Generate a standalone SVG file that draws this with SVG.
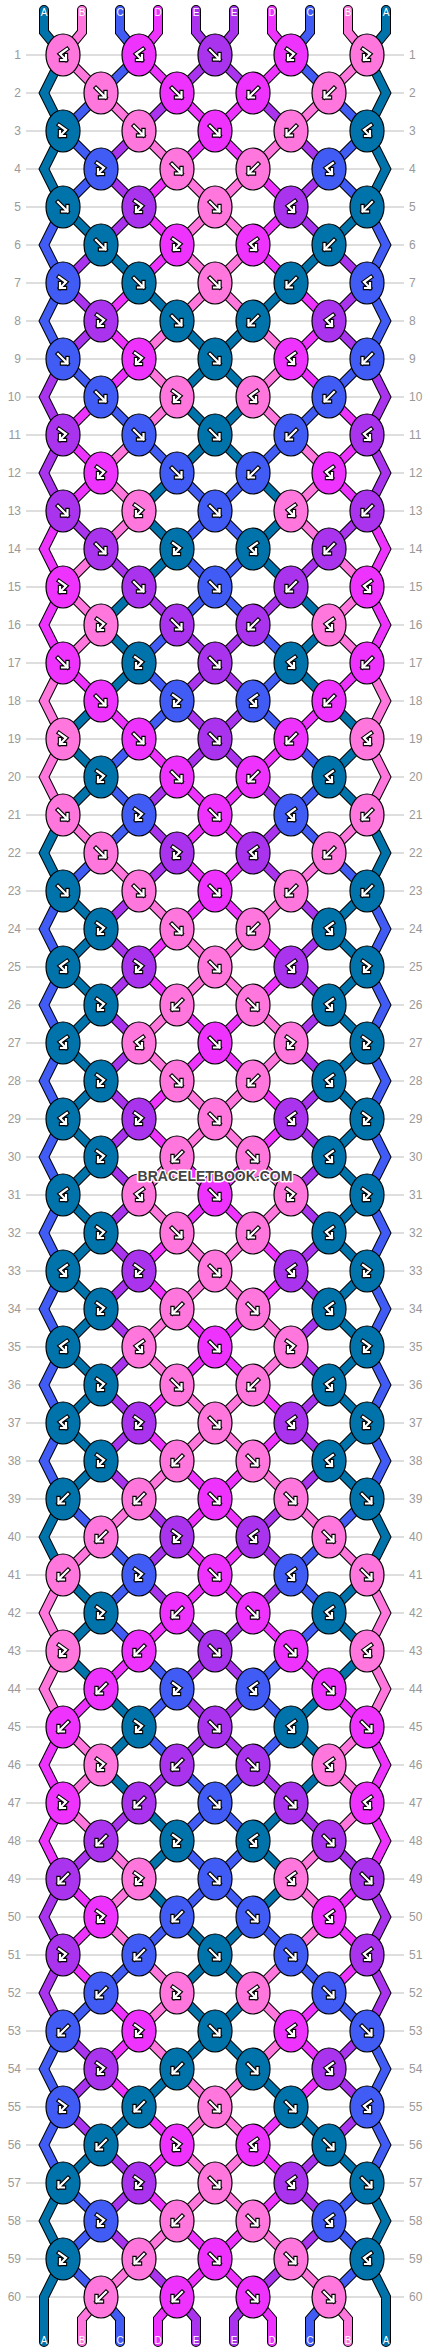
<svg xmlns="http://www.w3.org/2000/svg" width="430" height="2352" viewBox="0 0 430 2352">
<style>
.o{fill:none;stroke:#000;stroke-width:10;stroke-linecap:round;stroke-linejoin:miter;stroke-miterlimit:4}
.s{fill:none;stroke-width:8;stroke-linecap:round;stroke-linejoin:miter;stroke-miterlimit:4}
.sT{stroke:#0073aa}.sP{stroke:#ff77dd}.sU{stroke:#405cf5}.sM{stroke:#ee33ff}.sV{stroke:#aa33ee}
.T{fill:#0073aa}.P{fill:#ff77dd}.U{fill:#405cf5}.M{fill:#ee33ff}.V{fill:#aa33ee}
.ga{fill:none;stroke:#000;stroke-width:4.4;stroke-linecap:square;stroke-linejoin:miter}
.gw{fill:none;stroke:#fff;stroke-width:2.2;stroke-linecap:square;stroke-linejoin:miter}
.ln{fill:none;stroke:#bdbdbd;stroke-width:1}
.nl{font-family:"Liberation Sans",Arial,sans-serif;font-size:12px;fill:#999;text-anchor:end}
.nr{font-family:"Liberation Sans",Arial,sans-serif;font-size:12px;fill:#999;text-anchor:start}
.lab{font-family:"Liberation Sans",Arial,sans-serif;font-size:10px;fill:#fff;text-anchor:middle}
.wm{font-family:"Liberation Sans",Arial,sans-serif;font-size:14px;font-weight:bold;fill:#444;stroke:#fff;stroke-width:3;paint-order:stroke;stroke-linejoin:round;text-anchor:middle}
</style>
<defs>
<ellipse id="k" rx="17" ry="21" stroke="#000" stroke-width="1.2"/>
<path id="pf" d="M-5-5L4.5 4.5M4.5-1V4.5H-1"/>
<path id="pfb" d="M-4-6L3-1L-3 5M-3 0V5H2"/>
<g id="gf"><use href="#pf" class="ga"/><use href="#pf" class="gw"/></g>
<g id="gfb"><use href="#pfb" class="ga"/><use href="#pfb" class="gw"/></g>
<g id="Kf"><use href="#k"/><use href="#gf"/></g>
<g id="Kb"><use href="#k"/><use href="#gf" transform="scale(-1,1)"/></g>
<g id="Kfb"><use href="#k"/><use href="#gfb"/></g>
<g id="Kbf"><use href="#k"/><use href="#gfb" transform="scale(-1,1)"/></g>
<polyline id="sT" points="44,10 44,32 63,55 44,93 63,131 44,169 63,207 101,245 139,283 177,321 215,359 177,397 215,435 177,473 139,511 177,549 139,587 101,625 139,663 101,701 63,739 101,777 63,815 44,853 63,891 101,929 63,967 101,1005 63,1043 101,1081 63,1119 101,1157 63,1195 101,1233 63,1271 101,1309 63,1347 101,1385 63,1423 101,1461 63,1499 44,1537 63,1575 101,1613 63,1651 101,1689 139,1727 101,1765 139,1803 177,1841 139,1879 177,1917 215,1955 177,1993 215,2031 177,2069 139,2107 101,2145 63,2183 44,2221 63,2259 44,2297 44,2342"/>
<polyline id="sP" points="82,10 82,32 63,55 101,93 139,131 177,169 215,207 177,245 215,283 177,321 139,359 177,397 139,435 101,473 139,511 101,549 63,587 101,625 63,663 44,701 63,739 44,777 63,815 101,853 139,891 177,929 215,967 177,1005 139,1043 177,1081 215,1119 177,1157 139,1195 177,1233 215,1271 177,1309 139,1347 177,1385 215,1423 177,1461 139,1499 101,1537 63,1575 44,1613 63,1651 44,1689 63,1727 101,1765 63,1803 101,1841 139,1879 101,1917 139,1955 177,1993 139,2031 177,2069 215,2107 177,2145 215,2183 177,2221 139,2259 101,2297 82,2319 82,2342"/>
<polyline id="sU" points="120,10 120,32 139,55 101,93 63,131 101,169 63,207 44,245 63,283 44,321 63,359 101,397 139,435 177,473 215,511 177,549 215,587 177,625 139,663 177,701 139,739 101,777 139,815 101,853 63,891 44,929 63,967 44,1005 63,1043 44,1081 63,1119 44,1157 63,1195 44,1233 63,1271 44,1309 63,1347 44,1385 63,1423 44,1461 63,1499 101,1537 139,1575 101,1613 139,1651 177,1689 139,1727 177,1765 215,1803 177,1841 215,1879 177,1917 139,1955 101,1993 63,2031 44,2069 63,2107 44,2145 63,2183 101,2221 63,2259 101,2297 120,2319 120,2342"/>
<polyline id="sM" points="158,10 158,32 139,55 177,93 215,131 177,169 139,207 177,245 139,283 101,321 139,359 101,397 63,435 101,473 63,511 44,549 63,587 44,625 63,663 101,701 139,739 177,777 215,815 177,853 215,891 177,929 139,967 177,1005 215,1043 177,1081 139,1119 177,1157 215,1195 177,1233 139,1271 177,1309 215,1347 177,1385 139,1423 177,1461 215,1499 177,1537 215,1575 177,1613 139,1651 101,1689 63,1727 44,1765 63,1803 44,1841 63,1879 101,1917 63,1955 101,1993 139,2031 101,2069 139,2107 177,2145 139,2183 177,2221 215,2259 177,2297 158,2319 158,2342"/>
<polyline id="sV" points="196,10 196,32 215,55 177,93 139,131 101,169 139,207 101,245 63,283 101,321 63,359 44,397 63,435 44,473 63,511 101,549 139,587 177,625 215,663 177,701 215,739 177,777 139,815 177,853 139,891 101,929 139,967 101,1005 139,1043 101,1081 139,1119 101,1157 139,1195 101,1233 139,1271 101,1309 139,1347 101,1385 139,1423 101,1461 139,1499 177,1537 139,1575 177,1613 215,1651 177,1689 215,1727 177,1765 139,1803 101,1841 63,1879 44,1917 63,1955 44,1993 63,2031 101,2069 63,2107 101,2145 139,2183 101,2221 139,2259 177,2297 196,2319 196,2342"/>
<g id="half">
<use href="#sT" class="o"/><use href="#sT" class="s sT"/>
<use href="#sP" class="o"/><use href="#sP" class="s sP"/>
<use href="#sU" class="o"/><use href="#sU" class="s sU"/>
<use href="#sM" class="o"/><use href="#sM" class="s sM"/>
<use href="#sV" class="o"/><use href="#sV" class="s sV"/>
</g>
</defs>
<rect width="430" height="2352" fill="#fff"/>
<path class="ln" d="M26 55H404M26 93H404M26 131H404M26 169H404M26 207H404M26 245H404M26 283H404M26 321H404M26 359H404M26 397H404M26 435H404M26 473H404M26 511H404M26 549H404M26 587H404M26 625H404M26 663H404M26 701H404M26 739H404M26 777H404M26 815H404M26 853H404M26 891H404M26 929H404M26 967H404M26 1005H404M26 1043H404M26 1081H404M26 1119H404M26 1157H404M26 1195H404M26 1233H404M26 1271H404M26 1309H404M26 1347H404M26 1385H404M26 1423H404M26 1461H404M26 1499H404M26 1537H404M26 1575H404M26 1613H404M26 1651H404M26 1689H404M26 1727H404M26 1765H404M26 1803H404M26 1841H404M26 1879H404M26 1917H404M26 1955H404M26 1993H404M26 2031H404M26 2069H404M26 2107H404M26 2145H404M26 2183H404M26 2221H404M26 2259H404M26 2297H404"/>
<g id="row-numbers">
<text class="nl" x="21" y="59">1</text><text class="nr" x="409" y="59">1</text>
<text class="nl" x="21" y="97">2</text><text class="nr" x="409" y="97">2</text>
<text class="nl" x="21" y="135">3</text><text class="nr" x="409" y="135">3</text>
<text class="nl" x="21" y="173">4</text><text class="nr" x="409" y="173">4</text>
<text class="nl" x="21" y="211">5</text><text class="nr" x="409" y="211">5</text>
<text class="nl" x="21" y="249">6</text><text class="nr" x="409" y="249">6</text>
<text class="nl" x="21" y="287">7</text><text class="nr" x="409" y="287">7</text>
<text class="nl" x="21" y="325">8</text><text class="nr" x="409" y="325">8</text>
<text class="nl" x="21" y="363">9</text><text class="nr" x="409" y="363">9</text>
<text class="nl" x="21" y="401">10</text><text class="nr" x="409" y="401">10</text>
<text class="nl" x="21" y="439">11</text><text class="nr" x="409" y="439">11</text>
<text class="nl" x="21" y="477">12</text><text class="nr" x="409" y="477">12</text>
<text class="nl" x="21" y="515">13</text><text class="nr" x="409" y="515">13</text>
<text class="nl" x="21" y="553">14</text><text class="nr" x="409" y="553">14</text>
<text class="nl" x="21" y="591">15</text><text class="nr" x="409" y="591">15</text>
<text class="nl" x="21" y="629">16</text><text class="nr" x="409" y="629">16</text>
<text class="nl" x="21" y="667">17</text><text class="nr" x="409" y="667">17</text>
<text class="nl" x="21" y="705">18</text><text class="nr" x="409" y="705">18</text>
<text class="nl" x="21" y="743">19</text><text class="nr" x="409" y="743">19</text>
<text class="nl" x="21" y="781">20</text><text class="nr" x="409" y="781">20</text>
<text class="nl" x="21" y="819">21</text><text class="nr" x="409" y="819">21</text>
<text class="nl" x="21" y="857">22</text><text class="nr" x="409" y="857">22</text>
<text class="nl" x="21" y="895">23</text><text class="nr" x="409" y="895">23</text>
<text class="nl" x="21" y="933">24</text><text class="nr" x="409" y="933">24</text>
<text class="nl" x="21" y="971">25</text><text class="nr" x="409" y="971">25</text>
<text class="nl" x="21" y="1009">26</text><text class="nr" x="409" y="1009">26</text>
<text class="nl" x="21" y="1047">27</text><text class="nr" x="409" y="1047">27</text>
<text class="nl" x="21" y="1085">28</text><text class="nr" x="409" y="1085">28</text>
<text class="nl" x="21" y="1123">29</text><text class="nr" x="409" y="1123">29</text>
<text class="nl" x="21" y="1161">30</text><text class="nr" x="409" y="1161">30</text>
<text class="nl" x="21" y="1199">31</text><text class="nr" x="409" y="1199">31</text>
<text class="nl" x="21" y="1237">32</text><text class="nr" x="409" y="1237">32</text>
<text class="nl" x="21" y="1275">33</text><text class="nr" x="409" y="1275">33</text>
<text class="nl" x="21" y="1313">34</text><text class="nr" x="409" y="1313">34</text>
<text class="nl" x="21" y="1351">35</text><text class="nr" x="409" y="1351">35</text>
<text class="nl" x="21" y="1389">36</text><text class="nr" x="409" y="1389">36</text>
<text class="nl" x="21" y="1427">37</text><text class="nr" x="409" y="1427">37</text>
<text class="nl" x="21" y="1465">38</text><text class="nr" x="409" y="1465">38</text>
<text class="nl" x="21" y="1503">39</text><text class="nr" x="409" y="1503">39</text>
<text class="nl" x="21" y="1541">40</text><text class="nr" x="409" y="1541">40</text>
<text class="nl" x="21" y="1579">41</text><text class="nr" x="409" y="1579">41</text>
<text class="nl" x="21" y="1617">42</text><text class="nr" x="409" y="1617">42</text>
<text class="nl" x="21" y="1655">43</text><text class="nr" x="409" y="1655">43</text>
<text class="nl" x="21" y="1693">44</text><text class="nr" x="409" y="1693">44</text>
<text class="nl" x="21" y="1731">45</text><text class="nr" x="409" y="1731">45</text>
<text class="nl" x="21" y="1769">46</text><text class="nr" x="409" y="1769">46</text>
<text class="nl" x="21" y="1807">47</text><text class="nr" x="409" y="1807">47</text>
<text class="nl" x="21" y="1845">48</text><text class="nr" x="409" y="1845">48</text>
<text class="nl" x="21" y="1883">49</text><text class="nr" x="409" y="1883">49</text>
<text class="nl" x="21" y="1921">50</text><text class="nr" x="409" y="1921">50</text>
<text class="nl" x="21" y="1959">51</text><text class="nr" x="409" y="1959">51</text>
<text class="nl" x="21" y="1997">52</text><text class="nr" x="409" y="1997">52</text>
<text class="nl" x="21" y="2035">53</text><text class="nr" x="409" y="2035">53</text>
<text class="nl" x="21" y="2073">54</text><text class="nr" x="409" y="2073">54</text>
<text class="nl" x="21" y="2111">55</text><text class="nr" x="409" y="2111">55</text>
<text class="nl" x="21" y="2149">56</text><text class="nr" x="409" y="2149">56</text>
<text class="nl" x="21" y="2187">57</text><text class="nr" x="409" y="2187">57</text>
<text class="nl" x="21" y="2225">58</text><text class="nr" x="409" y="2225">58</text>
<text class="nl" x="21" y="2263">59</text><text class="nr" x="409" y="2263">59</text>
<text class="nl" x="21" y="2301">60</text><text class="nr" x="409" y="2301">60</text>
</g>
<g id="connectors">
<use href="#half"/>
<use href="#half" transform="matrix(-1 0 0 1 430 0)"/>
</g>
<g id="string-labels">
<text class="lab" x="44" y="16">A</text><text class="lab" x="82" y="16">B</text><text class="lab" x="120" y="16">C</text><text class="lab" x="158" y="16">D</text><text class="lab" x="196" y="16">E</text><text class="lab" x="234" y="16">E</text><text class="lab" x="272" y="16">D</text><text class="lab" x="310" y="16">C</text><text class="lab" x="348" y="16">B</text><text class="lab" x="386" y="16">A</text>
<text class="lab" x="44" y="2344">A</text><text class="lab" x="82" y="2344">B</text><text class="lab" x="120" y="2344">C</text><text class="lab" x="158" y="2344">D</text><text class="lab" x="196" y="2344">E</text><text class="lab" x="234" y="2344">E</text><text class="lab" x="272" y="2344">D</text><text class="lab" x="310" y="2344">C</text><text class="lab" x="348" y="2344">B</text><text class="lab" x="386" y="2344">A</text>
</g>
<g id="knots">
<g id="n1-1" class="P"><use href="#Kbf" x="63" y="55"/></g><g id="n1-2" class="M"><use href="#Kbf" x="139" y="55"/></g><g id="n1-3" class="V"><use href="#Kf" x="215" y="55"/></g><g id="n1-4" class="M"><use href="#Kfb" x="291" y="55"/></g><g id="n1-5" class="P"><use href="#Kfb" x="367" y="55"/></g>
<g id="n2-1" class="P"><use href="#Kf" x="101" y="93"/></g><g id="n2-2" class="M"><use href="#Kf" x="177" y="93"/></g><g id="n2-3" class="M"><use href="#Kb" x="253" y="93"/></g><g id="n2-4" class="P"><use href="#Kb" x="329" y="93"/></g>
<g id="n3-1" class="T"><use href="#Kfb" x="63" y="131"/></g><g id="n3-2" class="P"><use href="#Kf" x="139" y="131"/></g><g id="n3-3" class="M"><use href="#Kf" x="215" y="131"/></g><g id="n3-4" class="P"><use href="#Kb" x="291" y="131"/></g><g id="n3-5" class="T"><use href="#Kbf" x="367" y="131"/></g>
<g id="n4-1" class="U"><use href="#Kfb" x="101" y="169"/></g><g id="n4-2" class="P"><use href="#Kf" x="177" y="169"/></g><g id="n4-3" class="P"><use href="#Kb" x="253" y="169"/></g><g id="n4-4" class="U"><use href="#Kbf" x="329" y="169"/></g>
<g id="n5-1" class="T"><use href="#Kf" x="63" y="207"/></g><g id="n5-2" class="V"><use href="#Kfb" x="139" y="207"/></g><g id="n5-3" class="P"><use href="#Kf" x="215" y="207"/></g><g id="n5-4" class="V"><use href="#Kbf" x="291" y="207"/></g><g id="n5-5" class="T"><use href="#Kb" x="367" y="207"/></g>
<g id="n6-1" class="T"><use href="#Kf" x="101" y="245"/></g><g id="n6-2" class="M"><use href="#Kfb" x="177" y="245"/></g><g id="n6-3" class="M"><use href="#Kbf" x="253" y="245"/></g><g id="n6-4" class="T"><use href="#Kb" x="329" y="245"/></g>
<g id="n7-1" class="U"><use href="#Kfb" x="63" y="283"/></g><g id="n7-2" class="T"><use href="#Kf" x="139" y="283"/></g><g id="n7-3" class="P"><use href="#Kf" x="215" y="283"/></g><g id="n7-4" class="T"><use href="#Kb" x="291" y="283"/></g><g id="n7-5" class="U"><use href="#Kbf" x="367" y="283"/></g>
<g id="n8-1" class="V"><use href="#Kfb" x="101" y="321"/></g><g id="n8-2" class="T"><use href="#Kf" x="177" y="321"/></g><g id="n8-3" class="T"><use href="#Kb" x="253" y="321"/></g><g id="n8-4" class="V"><use href="#Kbf" x="329" y="321"/></g>
<g id="n9-1" class="U"><use href="#Kf" x="63" y="359"/></g><g id="n9-2" class="M"><use href="#Kfb" x="139" y="359"/></g><g id="n9-3" class="T"><use href="#Kf" x="215" y="359"/></g><g id="n9-4" class="M"><use href="#Kbf" x="291" y="359"/></g><g id="n9-5" class="U"><use href="#Kb" x="367" y="359"/></g>
<g id="n10-1" class="U"><use href="#Kf" x="101" y="397"/></g><g id="n10-2" class="P"><use href="#Kfb" x="177" y="397"/></g><g id="n10-3" class="P"><use href="#Kbf" x="253" y="397"/></g><g id="n10-4" class="U"><use href="#Kb" x="329" y="397"/></g>
<g id="n11-1" class="V"><use href="#Kfb" x="63" y="435"/></g><g id="n11-2" class="U"><use href="#Kf" x="139" y="435"/></g><g id="n11-3" class="T"><use href="#Kf" x="215" y="435"/></g><g id="n11-4" class="U"><use href="#Kb" x="291" y="435"/></g><g id="n11-5" class="V"><use href="#Kbf" x="367" y="435"/></g>
<g id="n12-1" class="M"><use href="#Kfb" x="101" y="473"/></g><g id="n12-2" class="U"><use href="#Kf" x="177" y="473"/></g><g id="n12-3" class="U"><use href="#Kb" x="253" y="473"/></g><g id="n12-4" class="M"><use href="#Kbf" x="329" y="473"/></g>
<g id="n13-1" class="V"><use href="#Kf" x="63" y="511"/></g><g id="n13-2" class="P"><use href="#Kfb" x="139" y="511"/></g><g id="n13-3" class="U"><use href="#Kf" x="215" y="511"/></g><g id="n13-4" class="P"><use href="#Kbf" x="291" y="511"/></g><g id="n13-5" class="V"><use href="#Kb" x="367" y="511"/></g>
<g id="n14-1" class="V"><use href="#Kf" x="101" y="549"/></g><g id="n14-2" class="T"><use href="#Kfb" x="177" y="549"/></g><g id="n14-3" class="T"><use href="#Kbf" x="253" y="549"/></g><g id="n14-4" class="V"><use href="#Kb" x="329" y="549"/></g>
<g id="n15-1" class="M"><use href="#Kfb" x="63" y="587"/></g><g id="n15-2" class="V"><use href="#Kf" x="139" y="587"/></g><g id="n15-3" class="U"><use href="#Kf" x="215" y="587"/></g><g id="n15-4" class="V"><use href="#Kb" x="291" y="587"/></g><g id="n15-5" class="M"><use href="#Kbf" x="367" y="587"/></g>
<g id="n16-1" class="P"><use href="#Kfb" x="101" y="625"/></g><g id="n16-2" class="V"><use href="#Kf" x="177" y="625"/></g><g id="n16-3" class="V"><use href="#Kb" x="253" y="625"/></g><g id="n16-4" class="P"><use href="#Kbf" x="329" y="625"/></g>
<g id="n17-1" class="M"><use href="#Kf" x="63" y="663"/></g><g id="n17-2" class="T"><use href="#Kfb" x="139" y="663"/></g><g id="n17-3" class="V"><use href="#Kf" x="215" y="663"/></g><g id="n17-4" class="T"><use href="#Kbf" x="291" y="663"/></g><g id="n17-5" class="M"><use href="#Kb" x="367" y="663"/></g>
<g id="n18-1" class="M"><use href="#Kf" x="101" y="701"/></g><g id="n18-2" class="U"><use href="#Kfb" x="177" y="701"/></g><g id="n18-3" class="U"><use href="#Kbf" x="253" y="701"/></g><g id="n18-4" class="M"><use href="#Kb" x="329" y="701"/></g>
<g id="n19-1" class="P"><use href="#Kfb" x="63" y="739"/></g><g id="n19-2" class="M"><use href="#Kf" x="139" y="739"/></g><g id="n19-3" class="V"><use href="#Kf" x="215" y="739"/></g><g id="n19-4" class="M"><use href="#Kb" x="291" y="739"/></g><g id="n19-5" class="P"><use href="#Kbf" x="367" y="739"/></g>
<g id="n20-1" class="T"><use href="#Kfb" x="101" y="777"/></g><g id="n20-2" class="M"><use href="#Kf" x="177" y="777"/></g><g id="n20-3" class="M"><use href="#Kb" x="253" y="777"/></g><g id="n20-4" class="T"><use href="#Kbf" x="329" y="777"/></g>
<g id="n21-1" class="P"><use href="#Kf" x="63" y="815"/></g><g id="n21-2" class="U"><use href="#Kfb" x="139" y="815"/></g><g id="n21-3" class="M"><use href="#Kf" x="215" y="815"/></g><g id="n21-4" class="U"><use href="#Kbf" x="291" y="815"/></g><g id="n21-5" class="P"><use href="#Kb" x="367" y="815"/></g>
<g id="n22-1" class="P"><use href="#Kf" x="101" y="853"/></g><g id="n22-2" class="V"><use href="#Kfb" x="177" y="853"/></g><g id="n22-3" class="V"><use href="#Kbf" x="253" y="853"/></g><g id="n22-4" class="P"><use href="#Kb" x="329" y="853"/></g>
<g id="n23-1" class="T"><use href="#Kf" x="63" y="891"/></g><g id="n23-2" class="P"><use href="#Kf" x="139" y="891"/></g><g id="n23-3" class="M"><use href="#Kf" x="215" y="891"/></g><g id="n23-4" class="P"><use href="#Kb" x="291" y="891"/></g><g id="n23-5" class="T"><use href="#Kb" x="367" y="891"/></g>
<g id="n24-1" class="T"><use href="#Kfb" x="101" y="929"/></g><g id="n24-2" class="P"><use href="#Kf" x="177" y="929"/></g><g id="n24-3" class="P"><use href="#Kb" x="253" y="929"/></g><g id="n24-4" class="T"><use href="#Kbf" x="329" y="929"/></g>
<g id="n25-1" class="T"><use href="#Kbf" x="63" y="967"/></g><g id="n25-2" class="V"><use href="#Kfb" x="139" y="967"/></g><g id="n25-3" class="P"><use href="#Kf" x="215" y="967"/></g><g id="n25-4" class="V"><use href="#Kbf" x="291" y="967"/></g><g id="n25-5" class="T"><use href="#Kfb" x="367" y="967"/></g>
<g id="n26-1" class="T"><use href="#Kfb" x="101" y="1005"/></g><g id="n26-2" class="P"><use href="#Kb" x="177" y="1005"/></g><g id="n26-3" class="P"><use href="#Kf" x="253" y="1005"/></g><g id="n26-4" class="T"><use href="#Kbf" x="329" y="1005"/></g>
<g id="n27-1" class="T"><use href="#Kbf" x="63" y="1043"/></g><g id="n27-2" class="P"><use href="#Kbf" x="139" y="1043"/></g><g id="n27-3" class="M"><use href="#Kf" x="215" y="1043"/></g><g id="n27-4" class="P"><use href="#Kfb" x="291" y="1043"/></g><g id="n27-5" class="T"><use href="#Kfb" x="367" y="1043"/></g>
<g id="n28-1" class="T"><use href="#Kfb" x="101" y="1081"/></g><g id="n28-2" class="P"><use href="#Kf" x="177" y="1081"/></g><g id="n28-3" class="P"><use href="#Kb" x="253" y="1081"/></g><g id="n28-4" class="T"><use href="#Kbf" x="329" y="1081"/></g>
<g id="n29-1" class="T"><use href="#Kbf" x="63" y="1119"/></g><g id="n29-2" class="V"><use href="#Kfb" x="139" y="1119"/></g><g id="n29-3" class="P"><use href="#Kf" x="215" y="1119"/></g><g id="n29-4" class="V"><use href="#Kbf" x="291" y="1119"/></g><g id="n29-5" class="T"><use href="#Kfb" x="367" y="1119"/></g>
<g id="n30-1" class="T"><use href="#Kfb" x="101" y="1157"/></g><g id="n30-2" class="P"><use href="#Kb" x="177" y="1157"/></g><g id="n30-3" class="P"><use href="#Kf" x="253" y="1157"/></g><g id="n30-4" class="T"><use href="#Kbf" x="329" y="1157"/></g>
<g id="n31-1" class="T"><use href="#Kbf" x="63" y="1195"/></g><g id="n31-2" class="P"><use href="#Kbf" x="139" y="1195"/></g><g id="n31-3" class="M"><use href="#Kf" x="215" y="1195"/></g><g id="n31-4" class="P"><use href="#Kfb" x="291" y="1195"/></g><g id="n31-5" class="T"><use href="#Kfb" x="367" y="1195"/></g>
<g id="n32-1" class="T"><use href="#Kfb" x="101" y="1233"/></g><g id="n32-2" class="P"><use href="#Kf" x="177" y="1233"/></g><g id="n32-3" class="P"><use href="#Kb" x="253" y="1233"/></g><g id="n32-4" class="T"><use href="#Kbf" x="329" y="1233"/></g>
<g id="n33-1" class="T"><use href="#Kbf" x="63" y="1271"/></g><g id="n33-2" class="V"><use href="#Kfb" x="139" y="1271"/></g><g id="n33-3" class="P"><use href="#Kf" x="215" y="1271"/></g><g id="n33-4" class="V"><use href="#Kbf" x="291" y="1271"/></g><g id="n33-5" class="T"><use href="#Kfb" x="367" y="1271"/></g>
<g id="n34-1" class="T"><use href="#Kfb" x="101" y="1309"/></g><g id="n34-2" class="P"><use href="#Kb" x="177" y="1309"/></g><g id="n34-3" class="P"><use href="#Kf" x="253" y="1309"/></g><g id="n34-4" class="T"><use href="#Kbf" x="329" y="1309"/></g>
<g id="n35-1" class="T"><use href="#Kbf" x="63" y="1347"/></g><g id="n35-2" class="P"><use href="#Kbf" x="139" y="1347"/></g><g id="n35-3" class="M"><use href="#Kf" x="215" y="1347"/></g><g id="n35-4" class="P"><use href="#Kfb" x="291" y="1347"/></g><g id="n35-5" class="T"><use href="#Kfb" x="367" y="1347"/></g>
<g id="n36-1" class="T"><use href="#Kfb" x="101" y="1385"/></g><g id="n36-2" class="P"><use href="#Kf" x="177" y="1385"/></g><g id="n36-3" class="P"><use href="#Kb" x="253" y="1385"/></g><g id="n36-4" class="T"><use href="#Kbf" x="329" y="1385"/></g>
<g id="n37-1" class="T"><use href="#Kbf" x="63" y="1423"/></g><g id="n37-2" class="V"><use href="#Kfb" x="139" y="1423"/></g><g id="n37-3" class="P"><use href="#Kf" x="215" y="1423"/></g><g id="n37-4" class="V"><use href="#Kbf" x="291" y="1423"/></g><g id="n37-5" class="T"><use href="#Kfb" x="367" y="1423"/></g>
<g id="n38-1" class="T"><use href="#Kfb" x="101" y="1461"/></g><g id="n38-2" class="P"><use href="#Kb" x="177" y="1461"/></g><g id="n38-3" class="P"><use href="#Kf" x="253" y="1461"/></g><g id="n38-4" class="T"><use href="#Kbf" x="329" y="1461"/></g>
<g id="n39-1" class="T"><use href="#Kb" x="63" y="1499"/></g><g id="n39-2" class="P"><use href="#Kb" x="139" y="1499"/></g><g id="n39-3" class="M"><use href="#Kf" x="215" y="1499"/></g><g id="n39-4" class="P"><use href="#Kf" x="291" y="1499"/></g><g id="n39-5" class="T"><use href="#Kf" x="367" y="1499"/></g>
<g id="n40-1" class="P"><use href="#Kb" x="101" y="1537"/></g><g id="n40-2" class="V"><use href="#Kfb" x="177" y="1537"/></g><g id="n40-3" class="V"><use href="#Kbf" x="253" y="1537"/></g><g id="n40-4" class="P"><use href="#Kf" x="329" y="1537"/></g>
<g id="n41-1" class="P"><use href="#Kb" x="63" y="1575"/></g><g id="n41-2" class="U"><use href="#Kfb" x="139" y="1575"/></g><g id="n41-3" class="M"><use href="#Kf" x="215" y="1575"/></g><g id="n41-4" class="U"><use href="#Kbf" x="291" y="1575"/></g><g id="n41-5" class="P"><use href="#Kf" x="367" y="1575"/></g>
<g id="n42-1" class="T"><use href="#Kfb" x="101" y="1613"/></g><g id="n42-2" class="M"><use href="#Kb" x="177" y="1613"/></g><g id="n42-3" class="M"><use href="#Kf" x="253" y="1613"/></g><g id="n42-4" class="T"><use href="#Kbf" x="329" y="1613"/></g>
<g id="n43-1" class="P"><use href="#Kfb" x="63" y="1651"/></g><g id="n43-2" class="M"><use href="#Kb" x="139" y="1651"/></g><g id="n43-3" class="V"><use href="#Kf" x="215" y="1651"/></g><g id="n43-4" class="M"><use href="#Kf" x="291" y="1651"/></g><g id="n43-5" class="P"><use href="#Kbf" x="367" y="1651"/></g>
<g id="n44-1" class="M"><use href="#Kb" x="101" y="1689"/></g><g id="n44-2" class="U"><use href="#Kfb" x="177" y="1689"/></g><g id="n44-3" class="U"><use href="#Kbf" x="253" y="1689"/></g><g id="n44-4" class="M"><use href="#Kf" x="329" y="1689"/></g>
<g id="n45-1" class="M"><use href="#Kb" x="63" y="1727"/></g><g id="n45-2" class="T"><use href="#Kfb" x="139" y="1727"/></g><g id="n45-3" class="V"><use href="#Kf" x="215" y="1727"/></g><g id="n45-4" class="T"><use href="#Kbf" x="291" y="1727"/></g><g id="n45-5" class="M"><use href="#Kf" x="367" y="1727"/></g>
<g id="n46-1" class="P"><use href="#Kfb" x="101" y="1765"/></g><g id="n46-2" class="V"><use href="#Kb" x="177" y="1765"/></g><g id="n46-3" class="V"><use href="#Kf" x="253" y="1765"/></g><g id="n46-4" class="P"><use href="#Kbf" x="329" y="1765"/></g>
<g id="n47-1" class="M"><use href="#Kfb" x="63" y="1803"/></g><g id="n47-2" class="V"><use href="#Kb" x="139" y="1803"/></g><g id="n47-3" class="U"><use href="#Kf" x="215" y="1803"/></g><g id="n47-4" class="V"><use href="#Kf" x="291" y="1803"/></g><g id="n47-5" class="M"><use href="#Kbf" x="367" y="1803"/></g>
<g id="n48-1" class="V"><use href="#Kb" x="101" y="1841"/></g><g id="n48-2" class="T"><use href="#Kfb" x="177" y="1841"/></g><g id="n48-3" class="T"><use href="#Kbf" x="253" y="1841"/></g><g id="n48-4" class="V"><use href="#Kf" x="329" y="1841"/></g>
<g id="n49-1" class="V"><use href="#Kb" x="63" y="1879"/></g><g id="n49-2" class="P"><use href="#Kfb" x="139" y="1879"/></g><g id="n49-3" class="U"><use href="#Kf" x="215" y="1879"/></g><g id="n49-4" class="P"><use href="#Kbf" x="291" y="1879"/></g><g id="n49-5" class="V"><use href="#Kf" x="367" y="1879"/></g>
<g id="n50-1" class="M"><use href="#Kfb" x="101" y="1917"/></g><g id="n50-2" class="U"><use href="#Kb" x="177" y="1917"/></g><g id="n50-3" class="U"><use href="#Kf" x="253" y="1917"/></g><g id="n50-4" class="M"><use href="#Kbf" x="329" y="1917"/></g>
<g id="n51-1" class="V"><use href="#Kfb" x="63" y="1955"/></g><g id="n51-2" class="U"><use href="#Kb" x="139" y="1955"/></g><g id="n51-3" class="T"><use href="#Kf" x="215" y="1955"/></g><g id="n51-4" class="U"><use href="#Kf" x="291" y="1955"/></g><g id="n51-5" class="V"><use href="#Kbf" x="367" y="1955"/></g>
<g id="n52-1" class="U"><use href="#Kb" x="101" y="1993"/></g><g id="n52-2" class="P"><use href="#Kfb" x="177" y="1993"/></g><g id="n52-3" class="P"><use href="#Kbf" x="253" y="1993"/></g><g id="n52-4" class="U"><use href="#Kf" x="329" y="1993"/></g>
<g id="n53-1" class="U"><use href="#Kb" x="63" y="2031"/></g><g id="n53-2" class="M"><use href="#Kfb" x="139" y="2031"/></g><g id="n53-3" class="T"><use href="#Kf" x="215" y="2031"/></g><g id="n53-4" class="M"><use href="#Kbf" x="291" y="2031"/></g><g id="n53-5" class="U"><use href="#Kf" x="367" y="2031"/></g>
<g id="n54-1" class="V"><use href="#Kfb" x="101" y="2069"/></g><g id="n54-2" class="T"><use href="#Kb" x="177" y="2069"/></g><g id="n54-3" class="T"><use href="#Kf" x="253" y="2069"/></g><g id="n54-4" class="V"><use href="#Kbf" x="329" y="2069"/></g>
<g id="n55-1" class="U"><use href="#Kfb" x="63" y="2107"/></g><g id="n55-2" class="T"><use href="#Kb" x="139" y="2107"/></g><g id="n55-3" class="P"><use href="#Kf" x="215" y="2107"/></g><g id="n55-4" class="T"><use href="#Kf" x="291" y="2107"/></g><g id="n55-5" class="U"><use href="#Kbf" x="367" y="2107"/></g>
<g id="n56-1" class="T"><use href="#Kb" x="101" y="2145"/></g><g id="n56-2" class="M"><use href="#Kfb" x="177" y="2145"/></g><g id="n56-3" class="M"><use href="#Kbf" x="253" y="2145"/></g><g id="n56-4" class="T"><use href="#Kf" x="329" y="2145"/></g>
<g id="n57-1" class="T"><use href="#Kb" x="63" y="2183"/></g><g id="n57-2" class="V"><use href="#Kfb" x="139" y="2183"/></g><g id="n57-3" class="P"><use href="#Kf" x="215" y="2183"/></g><g id="n57-4" class="V"><use href="#Kbf" x="291" y="2183"/></g><g id="n57-5" class="T"><use href="#Kf" x="367" y="2183"/></g>
<g id="n58-1" class="U"><use href="#Kfb" x="101" y="2221"/></g><g id="n58-2" class="P"><use href="#Kb" x="177" y="2221"/></g><g id="n58-3" class="P"><use href="#Kf" x="253" y="2221"/></g><g id="n58-4" class="U"><use href="#Kbf" x="329" y="2221"/></g>
<g id="n59-1" class="T"><use href="#Kfb" x="63" y="2259"/></g><g id="n59-2" class="P"><use href="#Kb" x="139" y="2259"/></g><g id="n59-3" class="M"><use href="#Kf" x="215" y="2259"/></g><g id="n59-4" class="P"><use href="#Kf" x="291" y="2259"/></g><g id="n59-5" class="T"><use href="#Kbf" x="367" y="2259"/></g>
<g id="n60-1" class="P"><use href="#Kb" x="101" y="2297"/></g><g id="n60-2" class="M"><use href="#Kb" x="177" y="2297"/></g><g id="n60-3" class="M"><use href="#Kf" x="253" y="2297"/></g><g id="n60-4" class="P"><use href="#Kf" x="329" y="2297"/></g>
</g>
<text class="wm" x="215" y="1181">BRACELETBOOK.COM</text>
</svg>
